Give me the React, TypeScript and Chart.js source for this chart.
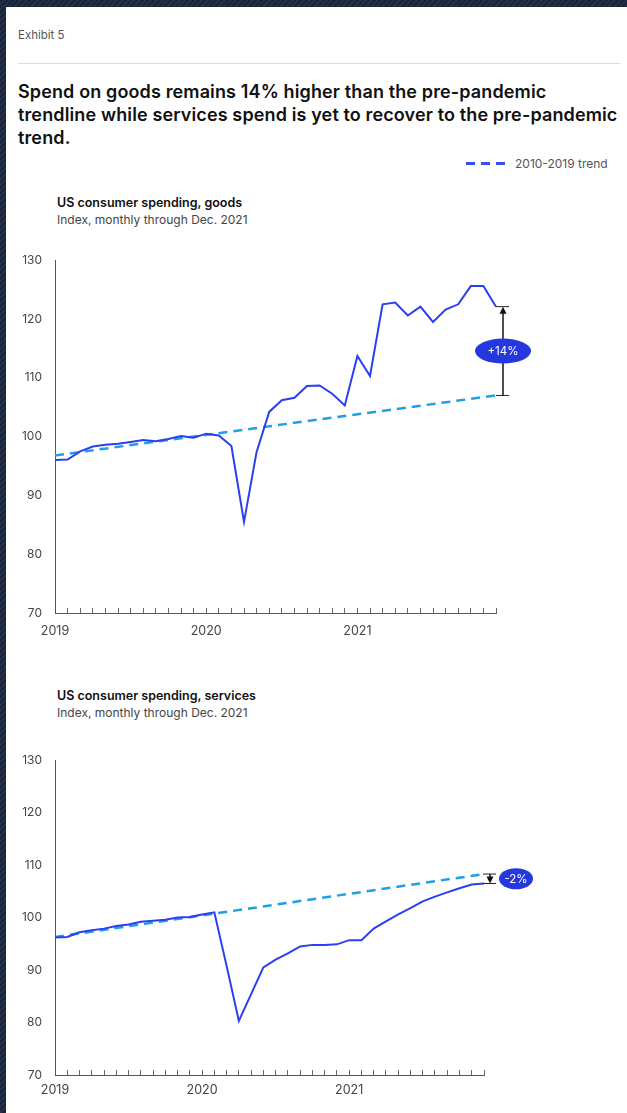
import React, { useEffect, useRef } from "react";
import { Chart, registerables } from "chart.js";

Chart.register(...registerables);

// Monthly categories, Jan 2019 – Dec 2021
const months = [
  "2019-01", "2019-02", "2019-03", "2019-04", "2019-05", "2019-06",
  "2019-07", "2019-08", "2019-09", "2019-10", "2019-11", "2019-12",
  "2020-01", "2020-02", "2020-03", "2020-04", "2020-05", "2020-06",
  "2020-07", "2020-08", "2020-09", "2020-10", "2020-11", "2020-12",
  "2021-01", "2021-02", "2021-03", "2021-04", "2021-05", "2021-06",
  "2021-07", "2021-08", "2021-09", "2021-10", "2021-11", "2021-12",
];

// US consumer spending on goods, index
const goodsIndex = [
  96.0, 96.1, 97.5, 98.3, 98.6, 98.8, 99.1, 99.4, 99.2, 99.6, 100.1, 99.8,
  100.5, 100.2, 98.4, 85.5, 97.4, 104.2, 106.2, 106.6, 108.6, 108.7, 107.3, 105.3,
  113.7, 110.3, 122.5, 122.8, 120.6, 122.1, 119.5, 121.6, 122.5, 125.6, 125.6, 122.1,
];

// US consumer spending on services, index
const servicesIndex = [
  96.2, 96.3, 97.2, 97.6, 97.9, 98.4, 98.7, 99.2, 99.4, 99.6, 100.0, 100.1,
  100.6, 101.0, 90.8, 80.3, 85.4, 90.5, 92.0, 93.2, 94.5, 94.8, 94.8, 94.9,
  95.7, 95.7, 97.9, 99.3, 100.6, 101.8, 103.1, 104.0, 104.8, 105.6, 106.3, 106.5,
];

// 2010-2019 trendline: values at the first and last month of the window
const goodsTrendEnds = [96.8, 107.0];
const servicesTrendEnds = [96.3, 108.3];

// Value axis ticks
const yTicks = [70, 80, 90, 100, 110, 120, 130];

const FONT = "Inter, 'Noto Sans', Arial, sans-serif";
const LINE_BLUE = "#2b3ff2";
const TREND_BLUE = "#1e9fe6";
const BADGE_BLUE = "#2438de";

// Straight trendline: only the endpoints carry values, the line spans the gap
function trendSeries(ends: number[]) {
  return months.map((_, i) =>
    i === 0 ? ends[0] : i === months.length - 1 ? ends[1] : null
  );
}

type GapOpts = { dx: number; labelDx: number; rx: number; ry: number };

// Bracketed arrow from the trendline end to the actual series end, with a % badge
function gapMarker(series: number[], ends: number[], o: GapOpts) {
  return {
    id: "gapMarker",
    afterDatasetsDraw(chart: any) {
      const { ctx, scales } = chart;
      const x = scales.x;
      const y = scales.y;
      const last = series.length - 1;
      const ax = x.getPixelForValue(last) + o.dx;
      const yEnd = y.getPixelForValue(series[last]);
      const yTrend = y.getPixelForValue(ends[1]);
      const pct = Math.round((series[last] / ends[1] - 1) * 100);
      const text = (pct > 0 ? "+" : "") + pct + "%";
      const dir = yEnd < yTrend ? -1 : 1; // arrow points toward the series end

      ctx.save();
      ctx.strokeStyle = "#222";
      ctx.fillStyle = "#111";
      ctx.lineWidth = 1;
      // caps
      ctx.beginPath();
      ctx.moveTo(ax - 7, yEnd);
      ctx.lineTo(ax + 6, yEnd);
      ctx.moveTo(ax - 7, yTrend);
      ctx.lineTo(ax + 6, yTrend);
      ctx.stroke();
      // shaft
      ctx.lineWidth = 1.6;
      ctx.beginPath();
      ctx.moveTo(ax, yTrend);
      ctx.lineTo(ax, yEnd - dir * 5);
      ctx.stroke();
      // head
      ctx.beginPath();
      ctx.moveTo(ax, yEnd);
      ctx.lineTo(ax - 3.5, yEnd - dir * 7);
      ctx.lineTo(ax + 3.5, yEnd - dir * 7);
      ctx.closePath();
      ctx.fill();

      // badge
      const cx = ax + o.labelDx;
      const cy = (yEnd + yTrend) / 2;
      ctx.fillStyle = BADGE_BLUE;
      ctx.beginPath();
      ctx.ellipse(cx, cy, o.rx, o.ry, 0, 0, Math.PI * 2);
      ctx.fill();
      ctx.fillStyle = "#ffffff";
      ctx.font = `11.5px ${FONT}`;
      ctx.textAlign = "center";
      ctx.textBaseline = "middle";
      ctx.fillText(text, cx, cy + 0.5);
      ctx.restore();
    },
  };
}

type PanelProps = {
  series: number[];
  ends: number[];
  width: number;
  height: number;
  padTop: number;
  padRight: number;
  axisHeight: number;
  labelPad: number;
  marker: GapOpts;
};

function IndexChart(p: PanelProps) {
  const ref = useRef<HTMLCanvasElement | null>(null);

  useEffect(() => {
    if (!ref.current) return;
    const chart = new Chart(ref.current, {
      type: "line",
      data: {
        labels: months,
        datasets: [
          {
            label: "Index",
            data: p.series,
            borderColor: LINE_BLUE,
            borderWidth: 2,
            pointRadius: 0,
            tension: 0,
          },
          {
            label: "2010-2019 trend",
            data: trendSeries(p.ends),
            borderColor: TREND_BLUE,
            borderWidth: 2.5,
            borderDash: [9, 6],
            pointRadius: 0,
            spanGaps: true,
          },
        ],
      },
      options: {
        responsive: false,
        animation: false,
        events: [],
        layout: { padding: { top: p.padTop, right: p.padRight, left: 0, bottom: 0 } },
        plugins: { legend: { display: false }, tooltip: { enabled: false } },
        scales: {
          x: {
            type: "category",
            grid: {
              display: true,
              drawOnChartArea: false,
              drawTicks: true,
              tickLength: -5,
              color: "#666",
              lineWidth: 1,
            },
            border: { display: true, color: "#555", width: 1 },
            ticks: {
              autoSkip: false,
              maxRotation: 0,
              padding: p.labelPad,
              color: "#444",
              font: { family: FONT, size: 12.5 },
              callback: (_v: any, i: number) =>
                months[i].endsWith("-01") ? months[i].slice(0, 4) : "",
            },
            afterFit: (s: any) => {
              s.height = p.axisHeight;
            },
          },
          y: {
            min: yTicks[0],
            max: yTicks[yTicks.length - 1],
            afterBuildTicks: (s: any) => {
              s.ticks = yTicks.map((v) => ({ value: v }));
            },
            grid: { display: false, drawTicks: false },
            border: { display: true, color: "#555", width: 1 },
            ticks: {
              padding: 13,
              color: "#444",
              font: { family: FONT, size: 12 },
            },
            afterFit: (s: any) => {
              s.width = 55;
            },
          },
        },
      },
      plugins: [gapMarker(p.series, p.ends, p.marker)],
    });
    return () => chart.destroy();
  }, []);

  return (
    <canvas
      ref={ref}
      width={p.width}
      height={p.height}
      style={{ display: "block", width: p.width, height: p.height }}
    />
  );
}

const abs = (s: React.CSSProperties): React.CSSProperties => ({ position: "absolute", ...s });

export default function App() {
  return (
    <div
      style={{
        position: "fixed",
        left: 0,
        top: 0,
        width: 627,
        height: 1113,
        overflow: "hidden",
        background:
          "repeating-linear-gradient(135deg, #1a2436 0px, #1a2436 2px, #223048 2px, #223048 4px)",
        fontFamily: FONT,
      }}
    >
      <div style={abs({ left: 6, top: 7, right: 0, bottom: 0, background: "#ffffff" })} />

      <div style={abs({ left: 18, top: 28, fontSize: 11.5, lineHeight: "15px", color: "#555" })}>
        Exhibit 5
      </div>
      <div style={abs({ left: 18, top: 63, width: 602, height: 1, background: "#dcdcdc" })} />

      <div
        style={abs({
          left: 18,
          top: 80,
          fontSize: 18,
          lineHeight: "23px",
          fontWeight: 600,
          letterSpacing: 0.13,
          color: "#111",
          whiteSpace: "nowrap",
        })}
      >
        Spend on goods remains 14% higher than the pre-pandemic
        <br />
        trendline while services spend is yet to recover to the pre-pandemic
        <br />
        trend.
      </div>

      {/* legend */}
      <div style={abs({ left: 466, top: 162, width: 9, height: 2.5, background: "#3a4ef2" })} />
      <div style={abs({ left: 481, top: 162, width: 9, height: 2.5, background: "#3a4ef2" })} />
      <div style={abs({ left: 496, top: 162, width: 9, height: 2.5, background: "#3a4ef2" })} />
      <div style={abs({ left: 515, top: 155, fontSize: 12, lineHeight: "17px", color: "#555" })}>
        2010-2019 trend
      </div>

      {/* goods panel */}
      <div style={abs({ left: 57, top: 194, fontSize: 12.5, lineHeight: "17px", fontWeight: 600, color: "#111" })}>
        US consumer spending, goods
      </div>
      <div style={abs({ left: 57, top: 211, fontSize: 12, lineHeight: "17px", color: "#444" })}>
        Index, monthly through Dec. 2021
      </div>
      <div style={abs({ left: 0, top: 240 })}>
        <IndexChart
          series={goodsIndex}
          ends={goodsTrendEnds}
          width={627}
          height={410}
          padTop={20}
          padRight={131}
          axisHeight={37}
          labelPad={16}
          marker={{ dx: 7, labelDx: 0, rx: 28, ry: 12.5 }}
        />
      </div>

      {/* services panel */}
      <div style={abs({ left: 57, top: 687, fontSize: 12.5, lineHeight: "17px", fontWeight: 600, color: "#111" })}>
        US consumer spending, services
      </div>
      <div style={abs({ left: 57, top: 704, fontSize: 12, lineHeight: "17px", color: "#444" })}>
        Index, monthly through Dec. 2021
      </div>
      <div style={abs({ left: 0, top: 740 })}>
        <IndexChart
          series={servicesIndex}
          ends={servicesTrendEnds}
          width={627}
          height={373}
          padTop={16}
          padRight={143}
          axisHeight={38}
          labelPad={13}
          marker={{ dx: 6, labelDx: 26, rx: 17, ry: 10.5 }}
        />
      </div>
    </div>
  );
}
